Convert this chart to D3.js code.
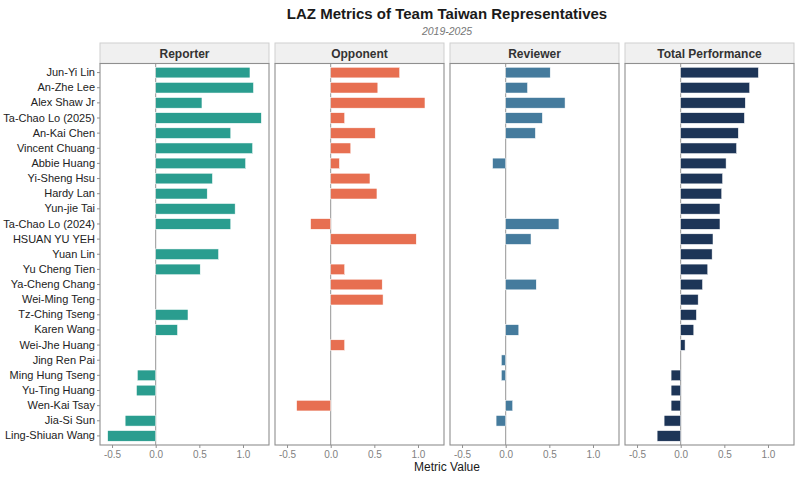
<!DOCTYPE html>
<html>
<head>
  <meta charset="utf-8">
  <style>
    body { margin: 0; background: #fff; }
    svg text { font-family: "Liberation Sans", Arial, sans-serif; }
  </style>
</head>
<body>
  <div id="viz"></div>
  <script src="https://cdnjs.cloudflare.com/ajax/libs/d3/7.8.5/d3.min.js"></script>
  <script>
  // people, top to bottom
  const names = [
    'Jun-Yi Lin', 'An-Zhe Lee', 'Alex Shaw Jr', 'Ta-Chao Lo (2025)', 'An-Kai Chen',
    'Vincent Chuang', 'Abbie Huang', 'Yi-Sheng Hsu', 'Hardy Lan', 'Yun-jie Tai',
    'Ta-Chao Lo (2024)', 'HSUAN YU YEH', 'Yuan Lin', 'Yu Cheng Tien', 'Ya-Cheng Chang',
    'Wei-Ming Teng', 'Tz-Ching Tseng', 'Karen Wang', 'Wei-Jhe Huang', 'Jing Ren Pai',
    'Ming Hung Tseng', 'Yu-Ting Huang', 'Wen-Kai Tsay', 'Jia-Si Sun', 'Ling-Shiuan Wang'
  ];

  // metric values per role (null = no value)
  const reporter = [1.08, 1.12, 0.53, 1.21, 0.86, 1.11, 1.03, 0.65, 0.59, 0.91,
                    0.86, null, 0.72, 0.51, null, null, 0.37, 0.25, null, null,
                    -0.21, -0.22, null, -0.35, -0.55];
  const opponent = [0.79, 0.54, 1.08, 0.16, 0.51, 0.23, 0.10, 0.45, 0.53, null,
                    -0.23, 0.98, null, 0.16, 0.59, 0.60, null, null, 0.16, null,
                    null, null, -0.39, null, null];
  const reviewer = [0.51, 0.25, 0.68, 0.42, 0.34, null, -0.15, null, null, null,
                    0.61, 0.29, null, null, 0.35, null, null, 0.15, null, -0.05,
                    -0.05, null, 0.08, -0.11, null];
  const total    = [0.89, 0.79, 0.74, 0.73, 0.66, 0.64, 0.52, 0.48, 0.47, 0.45,
                    0.45, 0.37, 0.36, 0.31, 0.25, 0.20, 0.18, 0.15, 0.05, null,
                    -0.11, -0.11, -0.11, -0.19, -0.27];

  const panelTitles = ['Reporter', 'Opponent', 'Reviewer', 'Total Performance'];
  const panelColors = ['#2A9D8F', '#E76F51', '#457B9D', '#1D3557'];
  const xTicks = [-0.5, 0, 0.5, 1.0];

  const series = [reporter, opponent, reviewer, total];

  const W = 800, H = 480;
  const left = 100, panelW = 169, gap = 6;
  const stripTop = 43, panelTop = 63.5, panelBottom = 445;

  const svg = d3.select('#viz').append('svg')
    .attr('width', W)
    .attr('height', H);

  // shared x domain, padded 5% like ggplot
  const all = series.flat().filter(v => v !== null);
  const lo = d3.min(all), hi = d3.max(all), pad = (hi - lo) * 0.05;

  const x = d3.scaleLinear()
    .domain([lo - pad, hi + pad])
    .range([0, panelW]);

  const y = d3.scaleBand()
    .domain(names)
    .range([panelTop, panelBottom])
    .paddingInner(0.3)
    .paddingOuter(0.25);

  // titles
  const midX = left + (panelW * 4 + gap * 3) / 2;
  svg.append('text')
    .attr('x', midX).attr('y', 19)
    .attr('text-anchor', 'middle')
    .style('font-size', '15px').style('font-weight', 'bold').style('fill', '#1a1a1a')
    .text('LAZ Metrics of Team Taiwan Representatives');
  svg.append('text')
    .attr('x', midX).attr('y', 35)
    .attr('text-anchor', 'middle')
    .style('font-size', '10.5px').style('font-style', 'italic').style('fill', '#777')
    .text('2019-2025');

  series.forEach((vals, i) => {
    const g = svg.append('g')
      .attr('transform', 'translate(' + (left + i * (panelW + gap)) + ',0)');

    // strip
    g.append('rect')
      .attr('x', 0).attr('y', stripTop)
      .attr('width', panelW).attr('height', panelTop - stripTop)
      .attr('fill', '#f0f0f0').attr('stroke', '#cfcfcf');
    g.append('text')
      .attr('x', panelW / 2).attr('y', stripTop + 14.5)
      .attr('text-anchor', 'middle')
      .style('font-size', '12px').style('font-weight', 'bold').style('fill', '#333')
      .text(panelTitles[i]);

    // zero line
    g.append('line')
      .attr('x1', x(0)).attr('x2', x(0))
      .attr('y1', panelTop).attr('y2', panelBottom)
      .attr('stroke', '#8a8a8a').attr('stroke-width', 0.9);

    // bars
    g.selectAll('rect.bar')
      .data(names.map((n, j) => ({ name: n, v: vals[j] })).filter(d => d.v !== null))
      .enter().append('rect')
        .attr('class', 'bar')
        .attr('x', d => Math.min(x(0), x(d.v)))
        .attr('width', d => Math.abs(x(d.v) - x(0)))
        .attr('y', d => y(d.name))
        .attr('height', y.bandwidth())
        .attr('fill', panelColors[i])
        .attr('stroke', '#fff').attr('stroke-width', 0.5);

    // panel border
    g.append('rect')
      .attr('x', 0).attr('y', panelTop)
      .attr('width', panelW).attr('height', panelBottom - panelTop)
      .attr('fill', 'none').attr('stroke', '#8f8f8f').attr('stroke-width', 1.1);

    // x axis
    const xa = g.append('g')
      .attr('transform', 'translate(0,' + panelBottom + ')')
      .call(d3.axisBottom(x).tickValues(xTicks).tickSize(3).tickFormat(d => d.toFixed(1)));
    xa.select('.domain').remove();
    xa.selectAll('line').attr('stroke', '#8f8f8f');
    xa.selectAll('text')
      .style('font-size', '10px').style('fill', '#7f7f7f')
      .style('font-family', '"Liberation Sans", Arial, sans-serif');

    // y axis on first panel only
    if (i === 0) {
      const ya = g.append('g')
        .call(d3.axisLeft(y).tickSize(3).tickPadding(2));
      ya.select('.domain').remove();
      ya.selectAll('line').attr('stroke', '#8f8f8f');
      ya.selectAll('text')
        .style('font-size', '11px').style('fill', '#222')
        .style('font-family', '"Liberation Sans", Arial, sans-serif');
    }
  });

  svg.append('text')
    .attr('x', midX).attr('y', 471)
    .attr('text-anchor', 'middle')
    .style('font-size', '12px').style('fill', '#1a1a1a')
    .text('Metric Value');
  </script>
</body>
</html>
